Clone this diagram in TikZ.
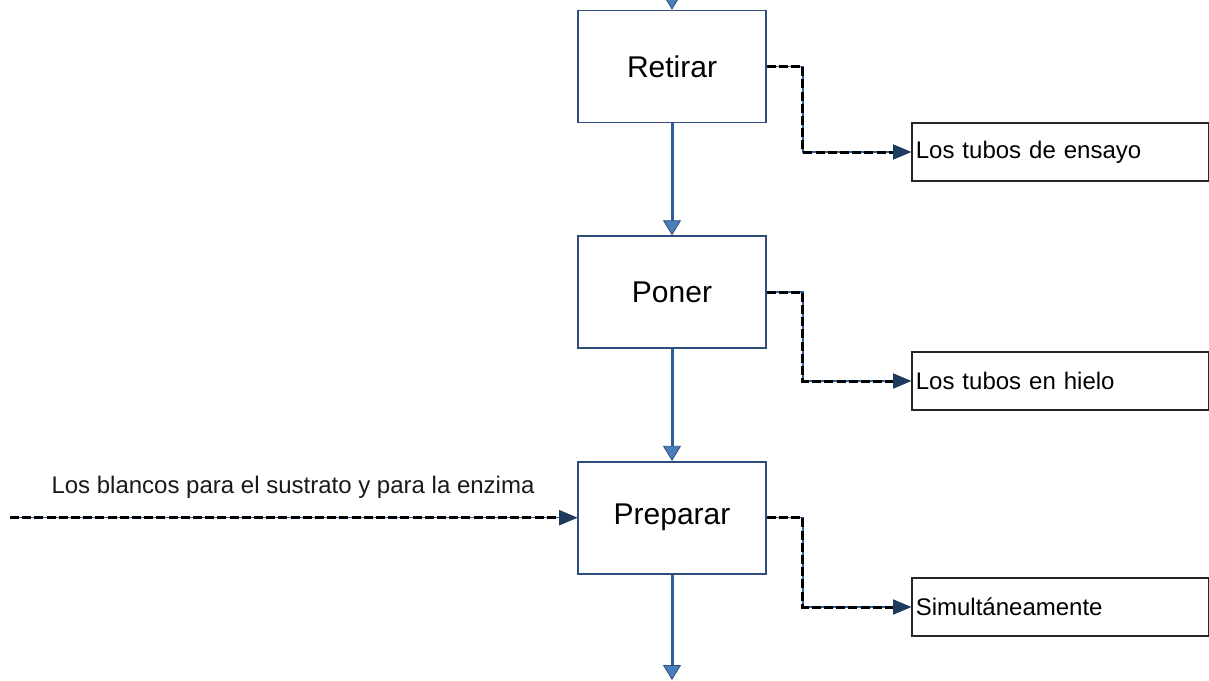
\documentclass[tikz,border=0pt]{standalone}
\usepackage{fontspec}
\setmainfont{Liberation Sans}
\usetikzlibrary{arrows.meta,positioning}

\definecolor{boxblue}{HTML}{2F4E7E}
\definecolor{flowblue}{HTML}{2E5F9B}
\definecolor{tipblue}{HTML}{4A7EBB}
\definecolor{navy}{HTML}{1F3A5F}

\begin{document}
\begin{tikzpicture}[x=0.5pt,y=-0.5pt,node distance=56pt,
                    flow/.style={draw=flowblue,line width=1.5pt,
                      -{Triangle[length=7.5pt,width=9pt,fill=tipblue,color=boxblue,line width=0.4pt]}},
                    feed/.style={draw=black,line width=1.5pt,dash pattern=on 4.5pt off 1.6pt,
                      preaction={draw=flowblue,line width=0.7pt,solid},
                      -{Triangle[length=9pt,width=7.5pt,fill=navy,color=navy,line width=0.4pt]}}]
  \tikzstyle{task}=[draw=boxblue,line width=0.8pt,fill=white,inner sep=0pt,
                    minimum width=94pt,minimum height=56pt,
                    font=\fontsize{15}{18}\selectfont]
  \tikzstyle{note}=[draw=black!85,line width=0.8pt,anchor=west,inner xsep=2pt,
                    text width=144.5pt,align=left,minimum height=29pt,
                    font=\fontsize{12}{14}\selectfont]

  \useasboundingbox (0,0) rectangle (1209,680);

  % main steps
  \node[task]                      (retirar)  at (672,66.5) {Retirar};
  \node[task,below=56pt of retirar]  (poner)                {Poner};
  \node[task,below=56pt of poner]    (preparar)             {Preparar};

  % side notes
  \node[note] (ensayo)   at (911,152) {Los tubos de ensayo};
  \node[note] (hielo)    at (911,381) {Los tubos en hielo};
  \node[note] (simult)   at (911,607) {Simultáneamente};

  % input on the left
  \coordinate (blanco in) at (10,0 |- preparar.west);
  \node[font=\fontsize{12}{14}\selectfont,text=black!90] (blancos) at (293,487)
    {Los blancos para el sustrato y para la enzima};

  \coordinate (top in)     at (672,0);
  \coordinate (bottom out) at (672,680);

  % main flow
  \draw[flow] (top in) -- (retirar);
  \draw[flow] (retirar) -- (poner);
  \draw[flow] (poner) -- (preparar);
  \draw[flow] (preparar) -- (bottom out);

  % dashed side links
  \draw[feed] (retirar.east)  -- ++(36,0) |- (ensayo.west);
  \draw[feed] (poner.east)    -- ++(36,0) |- (hielo.west);
  \draw[feed] (preparar.east) -- ++(36,0) |- (simult.west);
  \draw[feed] (blanco in) -- (preparar.west);
\end{tikzpicture}
\end{document}
